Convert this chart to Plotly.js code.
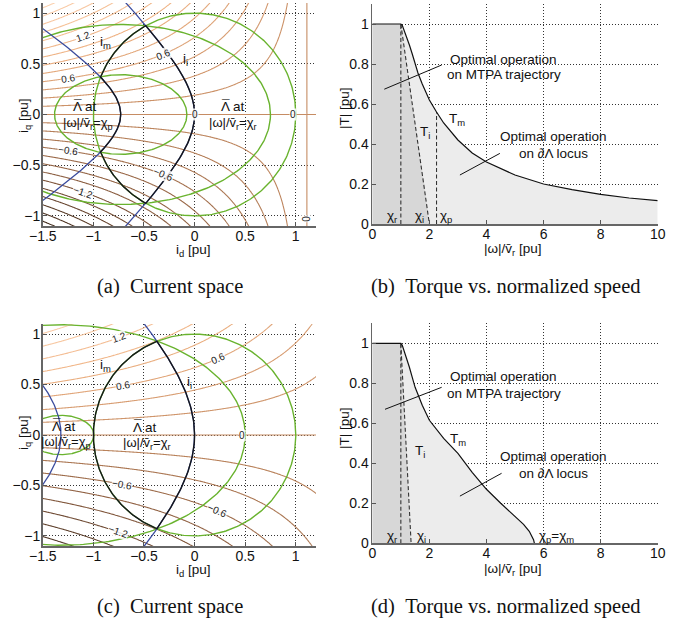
<!DOCTYPE html>
<html>
<head>
<meta charset="utf-8">
<script src="https://cdn.plot.ly/plotly-3.0.1.min.js"></script>
<style>
  html, body { margin: 0; padding: 0; background: #fff; }
  #fig { width: 695px; height: 624px; }
</style>
</head>
<body>
<div id="fig"></div>
<script>
// ---------- current-space plots: index 0 -> (a), index 1 -> (c) ----------
// torque hyperbolas T = kT * iq * (idT0 - id)
const kT = [0.71, 0.461];
const idT0 = [1.11, 1.95];
const levelStart = [-2.1, -1.8];
const levelEnd = [2.1, 1.8];
const levelStep = [0.15, 0.2];
// current limit (circle radius)
const iLimit = 1;
// voltage-limit ellipses: centre on the id axis, semi-axes along id, iq/id ratio
const ellCentre = [-0.73, -1.32];
const ellSemiId = [[0.654, 1.48], [0.325, 1.82]];
const ellRatio = [0.6, 0.6];
// MTPA locus  id = A - sqrt(A^2 + iq^2)
const mtpaA = [0.555, 0.975];
// MTPV locus  id = centre - (sqrt(B^2 + (s*iq)^2) - B)
const mtpvB = [0.67, 2.0];
const mtpvS = [1.5, 1.754];
// contour labels: [level, id]
const clabels = [
  [[1.2, -1.10], [0.6, -1.25], [-0.6, -1.25], [-1.2, -1.10], [0.6, -0.31], [-0.6, -0.31], [0, 0.0], [0, 0.97]],
  [[1.2, -0.75], [0.6, -0.71], [0.6, 0.23], [0, 0.47], [-0.6, -0.72], [-0.6, 0.22], [-1.2, -0.76]]
];

// ---------- torque vs normalized speed: (b) and (d) ----------
const speedTmB  = [0, 1, 1.05, 1.1, 1.2, 1.3, 1.4, 1.5, 1.6, 1.75, 2, 2.25, 2.5, 3, 3.5, 4, 5, 6, 7, 8, 9, 10];
const torqueTmB = [1, 1, 0.993, 0.975, 0.94, 0.895, 0.85, 0.8, 0.755, 0.7, 0.62, 0.56, 0.505, 0.42, 0.355, 0.31, 0.245, 0.2, 0.172, 0.148, 0.13, 0.117];
const speedTiB  = [1, 1.2, 1.4, 1.6, 1.8, 2.0];
const torqueTiB = [1, 0.8, 0.61, 0.42, 0.22, 0];
const chiB = [1, 2.0, 2.25];            // chi_r, chi_i, chi_p

const speedTmD  = [0, 1, 1.05, 1.1, 1.2, 1.3, 1.4, 1.5, 1.75, 2, 2.5, 3, 3.5, 4, 4.5, 5, 5.3, 5.5, 5.6, 5.65, 5.68];
const torqueTmD = [1, 1, 0.99, 0.97, 0.93, 0.88, 0.83, 0.78, 0.69, 0.615, 0.525, 0.45, 0.355, 0.27, 0.2, 0.135, 0.095, 0.06, 0.035, 0.018, 0];
const speedTiD  = [1, 1.36];
const torqueTiD = [1, 0];
const chiD = [1, 1.36, 5.68];           // chi_r, chi_i, chi_p = chi_m

// ---------- helpers ----------
const W = 695, H = 624;
const px = v => v / W;
const py = v => 1 - v / H;
const FONT = 'Liberation Sans, Arial, sans-serif';
const GREEN = '#69b32e', BLUE = '#3b4c9e', BLACK = '#15171c';

function interp(xs, ys, x) {
  for (let i = 1; i < xs.length; i++) {
    if (x <= xs[i]) {
      const t = (x - xs[i - 1]) / (xs[i] - xs[i - 1]);
      return ys[i - 1] + t * (ys[i] - ys[i - 1]);
    }
  }
  return ys[ys.length - 1];
}

function torqueGrid(p) {
  const xs = [], ys = [], z = [];
  for (let i = 0; i <= 300; i++) xs.push(-1.6 + i * 0.01 + 0.0031);
  for (let j = 0; j <= 240; j++) ys.push(-1.2 + j * 0.01 + 0.0047);
  for (const q of ys) z.push(xs.map(d => kT[p] * q * (idT0[p] - d)));
  return { xs, ys, z };
}

function ellipsePts(cx, a, b) {
  const x = [], y = [];
  for (let i = 0; i <= 360; i++) {
    const t = i * Math.PI / 180;
    x.push(cx + a * Math.cos(t));
    y.push(b * Math.sin(t));
  }
  return { x, y };
}

const mtpaId = (p, q) => mtpaA[p] - Math.sqrt(mtpaA[p] ** 2 + q * q);
const mtpvId = (p, q) => ellCentre[p] - (Math.sqrt(mtpvB[p] ** 2 + (mtpvS[p] * q) ** 2) - mtpvB[p]);

function locus(fn, p) {
  const x = [], y = [];
  for (let i = 0; i <= 240; i++) {
    const q = -1.2 + i * 0.01;
    x.push(fn(p, q));
    y.push(q);
  }
  return { x, y };
}

// optimal-current trajectory: MTPA -> current circle -> MTPV (if reached)
function trajectory(p) {
  const A = mtpaA[p], R = iLimit;
  const u = (A + Math.sqrt(A * A + 2 * R * R)) / 2;
  const q1 = Math.sqrt(u * u - A * A);
  const d1 = A - u;
  const up = [];
  for (let i = 0; i <= 60; i++) {
    const q = q1 * i / 60;
    up.push([mtpaId(p, q), q]);
  }
  let th2 = Math.PI, q2 = null;
  if (ellCentre[p] > -R) {
    let lo = 0, hi = R;
    for (let k = 0; k < 60; k++) {
      const m = (lo + hi) / 2;
      const f = mtpvId(p, m) ** 2 + m * m - R * R;
      if (f > 0) hi = m; else lo = m;
    }
    q2 = (lo + hi) / 2;
    th2 = Math.atan2(q2, mtpvId(p, q2));
  }
  const th1 = Math.atan2(q1, d1);
  for (let i = 1; i <= 60; i++) {
    const t = th1 + (th2 - th1) * i / 60;
    up.push([R * Math.cos(t), R * Math.sin(t)]);
  }
  if (q2 !== null) {
    for (let i = 1; i <= 40; i++) {
      const q = q2 * (1 - i / 40);
      up.push([mtpvId(p, q), q]);
    }
  }
  const full = up.concat(up.slice().reverse().map(([d, q]) => [d, -q]));
  return { x: full.map(v => v[0]), y: full.map(v => v[1]) };
}

const copper = [[0, '#3a281c'], [0.25, '#8a5d40'], [0.5, '#c68c63'], [0.75, '#efb385'], [1, '#fdd5b4']];

const traces = [];
const annotations = [];
const shapes = [];

function currentPanel(p, xa, ya) {
  const g = torqueGrid(p);
  const zr = Math.max(Math.abs(levelStart[p]), Math.abs(levelEnd[p])) + 0.1;
  traces.push({
    type: 'contour', x: g.xs, y: g.ys, z: g.z, xaxis: xa, yaxis: ya,
    autocontour: false,
    contours: { start: levelStart[p], end: levelEnd[p] + 1e-9, size: levelStep[p], coloring: 'lines' },
    colorscale: copper, zauto: false, zmin: -zr, zmax: zr, showscale: false,
    line: { width: 1.1, smoothing: 1 }, hoverinfo: 'skip'
  });
  for (const a of ellSemiId[p]) {
    const e = ellipsePts(ellCentre[p], a, a * ellRatio[p]);
    traces.push({ type: 'scatter', mode: 'lines', x: e.x, y: e.y, xaxis: xa, yaxis: ya,
      line: { color: GREEN, width: 1.4 }, hoverinfo: 'skip' });
  }
  const c = ellipsePts(0, iLimit, iLimit);
  traces.push({ type: 'scatter', mode: 'lines', x: c.x, y: c.y, xaxis: xa, yaxis: ya,
    line: { color: GREEN, width: 1.4 }, hoverinfo: 'skip' });
  for (const fn of [mtpaId, mtpvId]) {
    const l = locus(fn, p);
    traces.push({ type: 'scatter', mode: 'lines', x: l.x, y: l.y, xaxis: xa, yaxis: ya,
      line: { color: BLUE, width: 1.3 }, hoverinfo: 'skip' });
  }
  const tr = trajectory(p);
  traces.push({ type: 'scatter', mode: 'lines', x: tr.x, y: tr.y, xaxis: xa, yaxis: ya,
    line: { color: BLACK, width: 1.4 }, hoverinfo: 'skip' });

  // inline contour labels
  for (const [lev, d] of clabels[p]) {
    const q = lev / (kT[p] * (idT0[p] - d));
    const slope = q / (idT0[p] - d);
    annotations.push({
      xref: xa, yref: ya, x: d, y: q, text: String(lev).replace('-', '\u2212'),
      showarrow: false, textangle: -Math.atan(slope) * 180 / Math.PI,
      font: { family: FONT, size: 10, color: '#222' }, bgcolor: 'rgba(255,255,255,0.85)', borderpad: 0
    });
  }
}

function speedPanel(xa, ya, sTm, tTm, sTi, tTi, chi, showChiP) {
  // light region under T_m
  traces.push({ type: 'scatter', mode: 'lines', x: sTm, y: tTm, xaxis: xa, yaxis: ya,
    fill: 'tozeroy', fillcolor: '#ececec', line: { width: 0, color: 'rgba(0,0,0,0)' }, hoverinfo: 'skip' });
  // dark region bounded by T_i
  traces.push({ type: 'scatter', mode: 'lines', x: [0].concat(sTi), y: [1].concat(tTi), xaxis: xa, yaxis: ya,
    fill: 'tozeroy', fillcolor: '#d7d7d7', line: { width: 0, color: 'rgba(0,0,0,0)' }, hoverinfo: 'skip' });
  // T_i and chi markers (dashed)
  traces.push({ type: 'scatter', mode: 'lines', x: sTi, y: tTi, xaxis: xa, yaxis: ya,
    line: { color: '#333', width: 1.1, dash: '4px,2.5px' }, hoverinfo: 'skip' });
  traces.push({ type: 'scatter', mode: 'lines', x: [chi[0], chi[0]], y: [0, interp(sTm, tTm, chi[0])], xaxis: xa, yaxis: ya,
    line: { color: '#333', width: 1.1, dash: '4px,2.5px' }, hoverinfo: 'skip' });
  if (showChiP) {
    traces.push({ type: 'scatter', mode: 'lines', x: [chi[2], chi[2]], y: [0, interp(sTm, tTm, chi[2])], xaxis: xa, yaxis: ya,
      line: { color: '#333', width: 1.1, dash: '4px,2.5px' }, hoverinfo: 'skip' });
  }
  // T_m
  traces.push({ type: 'scatter', mode: 'lines', x: sTm, y: tTm, xaxis: xa, yaxis: ya,
    line: { color: '#111', width: 1.2 }, hoverinfo: 'skip' });
}

currentPanel(0, 'x', 'y');
currentPanel(1, 'x3', 'y3');
speedPanel('x2', 'y2', speedTmB, torqueTmB, speedTiB, torqueTiB, chiB, true);
speedPanel('x4', 'y4', speedTmD, torqueTmD, speedTiD, torqueTiD, chiD, false);

// ---------- texts ----------
function txt(xref, yref, x, y, text, size) {
  annotations.push({ xref, yref, x, y, text, showarrow: false,
    font: { family: FONT, size: size, color: '#111' } });
}
// "Λ at" with a macron set over the Λ
function lamText(xref, yref, x, y) {
  txt(xref, yref, x, y, '\u039B at', 13.5);
  annotations.push({ xref, yref, x, y, text: '\u00AF', showarrow: false, xshift: -7.5, yshift: 2.5,
    font: { family: FONT, size: 13.5, color: '#111' } });
}
const OMV = '|\u03C9|/v\u0304<sub>r</sub>=\u03C7';

// (a)
txt('x', 'y', -0.88, 0.71, 'i<sub>m</sub>', 13.5);
txt('x', 'y', -0.09, 0.54, 'i<sub>i</sub>', 13.5);
lamText('x', 'y', -1.08, 0.075);
txt('x', 'y', -1.05, -0.09, OMV + '<sub>p</sub>', 13);
lamText('x', 'y', 0.38, 0.075);
txt('x', 'y', 0.38, -0.09, OMV + '<sub>r</sub>', 13);
annotations.push({ xref: 'x', yref: 'y', x: idT0[0], y: -1.03, text: '0', showarrow: false, textangle: -90,
  font: { family: FONT, size: 10, color: '#222' }, bgcolor: 'rgba(255,255,255,0.85)', borderpad: 0 });
// (c)
txt('x3', 'y3', -0.88, 0.69, 'i<sub>m</sub>', 13.5);
txt('x3', 'y3', -0.05, 0.52, 'i<sub>i</sub>', 13.5);
lamText('x3', 'y3', -1.29, 0.085);
txt('x3', 'y3', -1.27, -0.07, OMV + '<sub>p</sub>', 13);
lamText('x3', 'y3', -0.49, 0.075);
txt('x3', 'y3', -0.47, -0.08, OMV + '<sub>r</sub>', 13);

// (b)
txt('x2', 'y2', 4.6, 0.82, 'Optimal operation', 13.5);
txt('x2', 'y2', 4.6, 0.746, 'on MTPA trajectory', 13.5);
txt('x2', 'y2', 6.34, 0.437, 'Optimal operation', 13.5);
txt('x2', 'y2', 6.34, 0.355, 'on \u2202\u039B locus', 13.5);
txt('x2', 'y2', 2.96, 0.52, 'T<sub>m</sub>', 13.5);
txt('x2', 'y2', 1.85, 0.46, 'T<sub>i</sub>', 13.5);
txt('x2', 'y2', 0.68, 0.04, '\u03C7<sub>r</sub>', 13.5);
txt('x2', 'y2', 1.67, 0.04, '\u03C7<sub>i</sub>', 13.5);
txt('x2', 'y2', 2.58, 0.04, '\u03C7<sub>p</sub>', 13.5);
// (d)
txt('x4', 'y4', 4.6, 0.832, 'Optimal operation', 13.5);
txt('x4', 'y4', 4.6, 0.75, 'on MTPA trajectory', 13.5);
txt('x4', 'y4', 6.34, 0.433, 'Optimal operation', 13.5);
txt('x4', 'y4', 6.34, 0.35, 'on \u2202\u039B locus', 13.5);
txt('x4', 'y4', 3.01, 0.517, 'T<sub>m</sub>', 13.5);
txt('x4', 'y4', 1.67, 0.458, 'T<sub>i</sub>', 13.5);
txt('x4', 'y4', 0.68, 0.035, '\u03C7<sub>r</sub>', 13.5);
txt('x4', 'y4', 1.73, 0.035, '\u03C7<sub>i</sub>', 13.5);
txt('x4', 'y4', 6.46, 0.035, '\u03C7<sub>p</sub>=\u03C7<sub>m</sub>', 13.5);

// leader lines
const leadersB = [[0.42, 0.674, 2.43, 0.795], [3.07, 0.245, 4.47, 0.353]];
const leadersD = [[0.445, 0.67, 2.43, 0.78], [3.07, 0.236, 4.53, 0.35]];
for (const [x0, y0, x1, y1] of leadersB) shapes.push({ type: 'line', xref: 'x2', yref: 'y2', x0, y0, x1, y1, line: { color: '#111', width: 1 } });
for (const [x0, y0, x1, y1] of leadersD) shapes.push({ type: 'line', xref: 'x4', yref: 'y4', x0, y0, x1, y1, line: { color: '#111', width: 1 } });

// axis titles (paper positions)
function ptxt(x, y, text, size, family, angle) {
  annotations.push({ xref: 'paper', yref: 'paper', x: px(x), y: py(y), text, showarrow: false,
    textangle: angle || 0, xanchor: 'center', yanchor: 'middle',
    font: { family: family || FONT, size, color: '#111' } });
}
ptxt(193, 250, 'i<sub>d</sub> [pu]', 13.5);
ptxt(24, 116, 'i<sub>q</sub> [pu]', 13.5, null, -90);
ptxt(513, 249, '|\u03C9|/v\u0304<sub>r</sub> [pu]', 13.5);
ptxt(344, 108, '|T| [pu]', 13.5, null, -90);
ptxt(193, 570, 'i<sub>d</sub> [pu]', 13.5);
ptxt(24, 433, 'i<sub>q</sub> [pu]', 13.5, null, -90);
ptxt(513, 569, '|\u03C9|/v\u0304<sub>r</sub> [pu]', 13.5);
ptxt(344, 428, '|T| [pu]', 13.5, null, -90);
// captions
const SERIF = 'Liberation Serif, Times New Roman, serif';
ptxt(170, 287, '(a)\u2002Current space', 20.5, SERIF);
ptxt(506, 287, '(b)\u2002Torque vs. normalized speed', 20.5, SERIF);
ptxt(170, 606, '(c)\u2002Current space', 20.5, SERIF);
ptxt(506, 606, '(d)\u2002Torque vs. normalized speed', 20.5, SERIF);

// ---------- axes ----------
function axis(domain, range, dtick, tick0, standoff) {
  return {
    domain, range, dtick, tick0, tickmode: 'linear',
    showline: true, linecolor: '#666', linewidth: 1.8, mirror: false,
    ticks: 'inside', ticklen: 4, tickcolor: '#555', tickwidth: 1,
    ticklabelstandoff: standoff,
    showgrid: true, gridcolor: '#333', gridwidth: 1, griddash: '1px,2px',
    zeroline: false, fixedrange: true,
    tickfont: { family: FONT, size: 14, color: '#111' }
  };
}
const layout = {
  width: W, height: H,
  margin: { l: 0, r: 0, t: 0, b: 0 },
  paper_bgcolor: '#fff', plot_bgcolor: '#fff',
  showlegend: false,
  xaxis:  Object.assign(axis([px(42.8), px(316)], [-1.5, 1.2], 0.5, -1.5, -4), { anchor: 'y' }),
  yaxis:  Object.assign(axis([py(226), py(3)], [-1.1, 1.1], 0.5, -1, -2), { anchor: 'x' }),
  xaxis2: Object.assign(axis([px(372.3), px(657.7)], [0, 10], 2, 0, -4), { anchor: 'y2' }),
  yaxis2: Object.assign(axis([py(224), py(4)], [0, 1.1], 0.2, 0, -1), { anchor: 'x2' }),
  xaxis3: Object.assign(axis([px(42.8), px(316)], [-1.5, 1.2], 0.5, -1.5, -4), { anchor: 'y3' }),
  yaxis3: Object.assign(axis([py(546), py(324)], [-1.1, 1.1], 0.5, -1, -2), { anchor: 'x3' }),
  xaxis4: Object.assign(axis([px(372.3), px(657.7)], [0, 10], 2, 0, -4), { anchor: 'y4' }),
  yaxis4: Object.assign(axis([py(543.3), py(323.3)], [0, 1.1], 0.2, 0, -1), { anchor: 'x4' }),
  annotations, shapes
};

Plotly.newPlot('fig', traces, layout, { staticPlot: true, displayModeBar: false });
</script>
</body>
</html>
